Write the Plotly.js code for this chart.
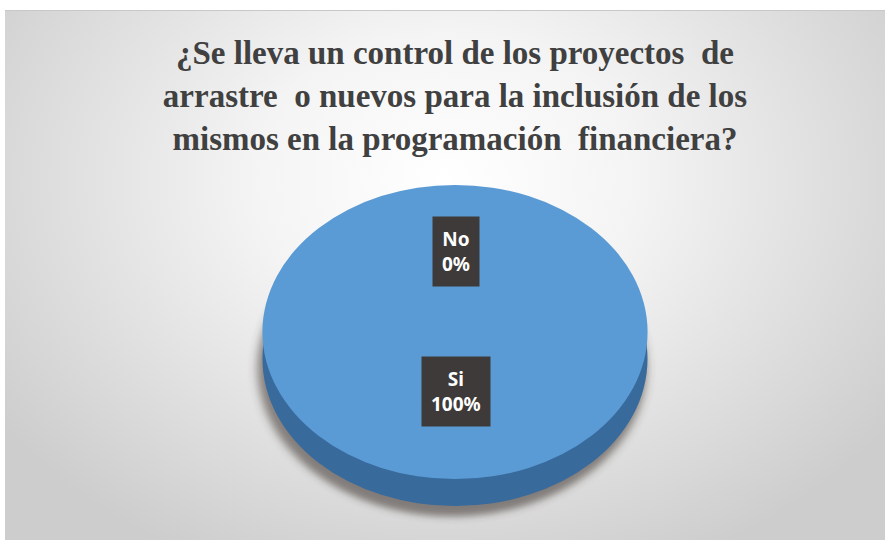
<!DOCTYPE html>
<html><head><meta charset="utf-8">
<script src="https://cdn.plot.ly/plotly-3.0.1.min.js"></script>
<style>
html,body{margin:0;padding:0;background:#ffffff;}
#wrap{position:relative;width:891px;height:544px;overflow:hidden;}
#bg{position:absolute;left:5px;top:10px;width:880px;height:530px;border-top:1px solid #c8c8c8;box-sizing:border-box;
  background:radial-gradient(ellipse 62% 80% at 50% 32%, #ffffff 0%, #f4f4f4 35%, #dcdcdc 75%, #cdcdcd 100%);}
#chart{position:absolute;left:0;top:0;width:891px;height:544px;}
</style></head><body>
<div id="wrap"><div id="bg"></div><div id="chart"></div></div>
<script>
// ---- data ----
const categories = ['No', 'Si'];
const values = [0, 100];
const titleLines = [
  '¿Se lleva un control de los proyectos \u00A0de',
  'arrastre \u00A0o nuevos para la inclusión de los',
  'mismos en la programación \u00A0financiera?'
];

// ---- geometry / style ----
const W = 891, H = 544;
const cx = 455, R = 192.5, k = 0.764;   // ellipse flattening
const Ct = 200;                          // unscaled centre of top face
const depth = 27;                        // pixel depth of side
const finalCy = 332;
const Cs = Ct + depth / k;
const Csh = Cs + 9 / k;

function dom(x, y, r) {
  return { x: [(x - r) / W, (x + r) / W], y: [1 - (y + r) / H, 1 - (y - r) / H] };
}
const total = values.reduce((a, b) => a + b, 0);

function pieTrace(color, domain) {
  return {
    type: 'pie', labels: categories, values: values, sort: false,
    direction: 'clockwise', rotation: 0,
    marker: { colors: categories.map(() => color), line: { width: 0 } },
    textinfo: 'none', hoverinfo: 'label+percent', domain: domain, showlegend: false
  };
}

const data = [
  pieTrace('rgba(70,60,55,0.6)', dom(cx - 3, Csh, R + 2)),
  pieTrace('#386a9c', dom(cx, Cs, R)),
  pieTrace('#5b9bd5', dom(cx, Ct, R))
];

const labelY = [251, 391];
const annotations = categories.map((c, i) => ({
  text: '<b>' + c + '</b><br><b>' + Math.round(values[i] / total * 100) + '%</b>',
  xref: 'paper', yref: 'paper', x: 456 / W, y: 1 - labelY[i] / H,
  xanchor: 'center', yanchor: 'middle', showarrow: false,
  font: { family: 'Noto Sans', size: 19, color: '#ffffff' },
  bgcolor: '#3d3a39', borderpad: 9
}));

const layout = {
  width: W, height: H,
  margin: { l: 0, r: 0, t: 0, b: 0 },
  paper_bgcolor: 'rgba(0,0,0,0)', plot_bgcolor: 'rgba(0,0,0,0)',
  title: {
    text: titleLines.join('<br>'),
    x: 455 / W, xanchor: 'center', xref: 'paper',
    y: 1 - 64 / H, yanchor: 'top', yref: 'paper',
    font: { family: 'Liberation Serif', weight: 700, size: 33, color: '#404040' }
  },
  annotations: annotations,
  showlegend: false
};

Plotly.newPlot('chart', data, layout, { displayModeBar: false, staticPlot: true }).then(function (gd) {
  const svg = gd.querySelector('svg.main-svg');
  const NS = 'http://www.w3.org/2000/svg';
  let defs = svg.querySelector('defs');
  if (!defs) { defs = document.createElementNS(NS, 'defs'); svg.insertBefore(defs, svg.firstChild); }
  const f = document.createElementNS(NS, 'filter');
  f.setAttribute('id', 'pieShadowBlur');
  f.setAttribute('x', '-20%'); f.setAttribute('y', '-20%');
  f.setAttribute('width', '140%'); f.setAttribute('height', '140%');
  const b = document.createElementNS(NS, 'feGaussianBlur');
  b.setAttribute('stdDeviation', '5');
  f.appendChild(b); defs.appendChild(f);
  const layer = gd.querySelector('.pielayer');
  if (layer) {
    layer.setAttribute('transform', 'matrix(1,0,0,' + k + ',0,' + (finalCy - k * Ct) + ')');
    const tr = layer.querySelectorAll('.trace');
    if (tr.length) tr[0].setAttribute('filter', 'url(#pieShadowBlur)');
  }
});
</script>
</body></html>
